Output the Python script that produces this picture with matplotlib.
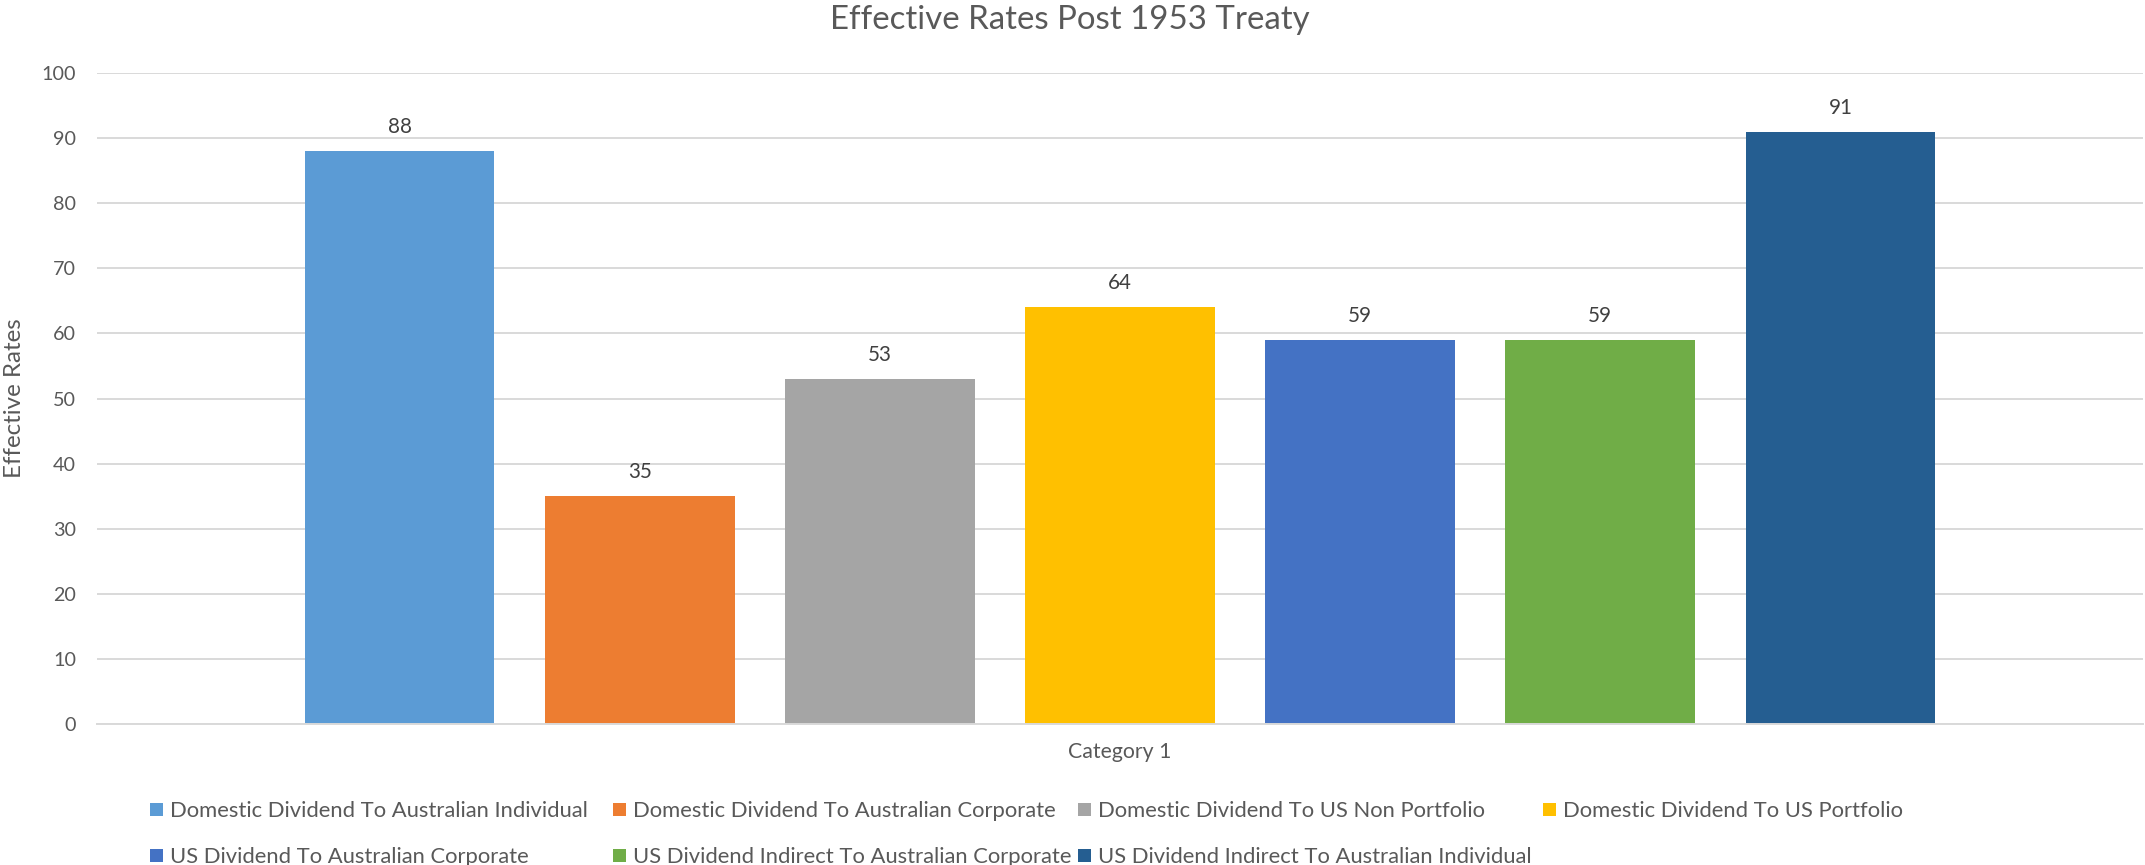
import numpy as np
import matplotlib
matplotlib.use("Agg")
import matplotlib.pyplot as plt
from matplotlib.patches import Rectangle

# ---- data ----
title = "Effective Rates Post 1953 Treaty"
y_label = "Effective Rates"
category = "Category 1"
series_names = [
    "Domestic Dividend To Australian Individual",
    "Domestic Dividend To Australian Corporate",
    "Domestic Dividend To US Non Portfolio",
    "Domestic Dividend To US Portfolio",
    "US Dividend To Australian Corporate",
    "US Dividend Indirect To Australian Corporate",
    "US Dividend Indirect To Australian Individual",
]
values = [88, 35, 53, 64, 59, 59, 91]
colors = ["#5B9BD5", "#ED7D31", "#A5A5A5", "#FFC000", "#4472C4", "#70AD47", "#255E91"]
y_ticks = [0, 10, 20, 30, 40, 50, 60, 70, 80, 90, 100]

# ---- canvas ----
W, H, DPI = 2145, 865, 100
fig = plt.figure(figsize=(W / DPI, H / DPI), dpi=DPI)
fig.patch.set_facecolor("white")
FONT = "Lato"
TEXT_GREY = "#595959"
LABEL_GREY = "#404040"
GRID = "#D9D9D9"

renderer = fig.canvas.get_renderer()


def fit_size(text, target_px, ref=20.0):
    t = fig.text(0, 0, text, fontsize=ref, family=FONT)
    w = t.get_window_extent(renderer).width
    t.remove()
    return ref * target_px / w


title_fs = fit_size(title, 480)
legend_fs = fit_size(series_names[0], 420)
ylabel_fs = fit_size(y_label, 160)
tick_fs = fit_size("50", 23)
value_fs = fit_size("88", 24)
cat_fs = fit_size(category, 103)
px = DPI / 72.0  # pixels per point


def fx(x):
    return x / W


def fy(y):
    return 1 - y / H


# plot area
left, right, top, bottom = 97, 2143, 73, 724
ax = fig.add_axes([fx(left), fy(bottom), (right - left) / W, (bottom - top) / H])

n = len(values)
offsets = np.arange(n) - (n - 1) / 2
ax.bar(offsets, values, width=0.79, color=colors, zorder=2)

ax.set_xlim(-4.26, 4.26)
ax.set_ylim(0, 100)
ax.set_yticks(y_ticks)
ax.set_yticklabels([str(t) for t in y_ticks], family=FONT, fontsize=tick_fs, color=TEXT_GREY)
ax.set_xticks([0])
ax.set_xticklabels([category], family=FONT, fontsize=cat_fs, color=TEXT_GREY)
ax.tick_params(axis="y", length=0, pad=15)
ax.tick_params(axis="x", length=0, pad=13)

ax.set_axisbelow(True)
ax.yaxis.grid(True, color=GRID, linewidth=1.4)
for side in ("top", "right", "left"):
    ax.spines[side].set_visible(False)
ax.spines["bottom"].set_color(GRID)
ax.spines["bottom"].set_linewidth(1.4)
ax.spines["bottom"].set_zorder(3)

# value labels above each bar
for x, v in zip(offsets, values):
    ax.annotate(str(v), (x, v), xytext=(0, 13), textcoords="offset points",
                ha="center", va="baseline", family=FONT, fontsize=value_fs,
                color=LABEL_GREY)

ax.set_ylabel(y_label, family=FONT, fontsize=ylabel_fs, color=TEXT_GREY,
              va="center", ha="center")
ax.yaxis.set_label_coords((15 - left) / (right - left), 0.5)

# title
fig.text(fx(1070), fy(29), title, ha="center", va="baseline", family=FONT,
         fontsize=title_fs, color=TEXT_GREY)

# legend laid out on a four-column grid, two rows
col_x = [150, 613, 1078, 1543]
row_y = [809, 855]
box = 13
cap_half = 0.36 * legend_fs * px
for i, (name, c) in enumerate(zip(series_names, colors)):
    cx = col_x[i % 4]
    cy = row_y[i // 4]
    fig.patches.append(Rectangle((fx(cx), fy(cy + box / 2)), box / W, box / H,
                                 transform=fig.transFigure, facecolor=c,
                                 edgecolor="none"))
    fig.text(fx(cx + 20), fy(cy + cap_half), name, ha="left", va="baseline",
             family=FONT, fontsize=legend_fs, color=TEXT_GREY)

fig.savefig("out.png", dpi=DPI, facecolor="white")
